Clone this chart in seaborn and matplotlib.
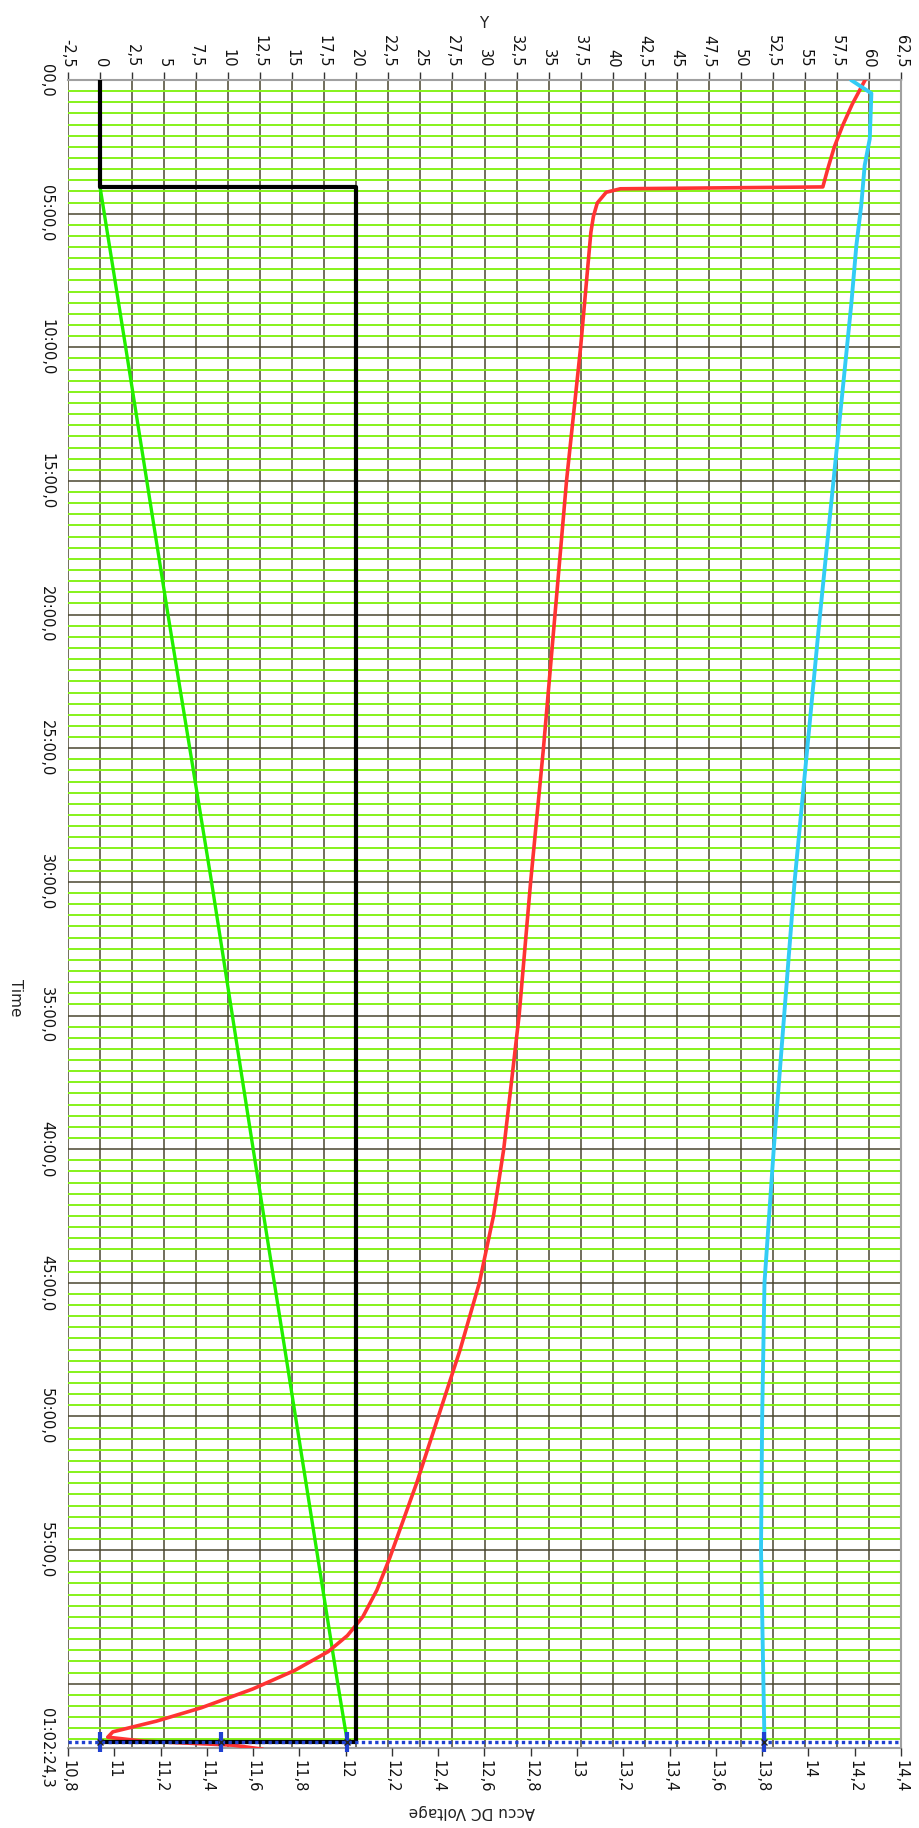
import numpy as np
import pandas as pd
import matplotlib
matplotlib.use("Agg")
import matplotlib.pyplot as plt
import seaborn as sns

sns.set_theme(style="white")
plt.rcParams["font.family"] = ["DejaVu Sans"]

# ---------------- data (time in minutes) ----------------
black_t = [0.0, 4.0, 4.0, 62.18, 62.18]
black_y = [0.0, 0.0, 20.0, 20.0, 0.0]

green_t = [4.0, 10.0, 20.0, 30.0, 40.0, 45.0, 50.0, 55.0, 60.0, 62.18]
green_y = [0.0, 2.0, 5.3, 8.7, 11.95, 13.6, 15.25, 16.9, 18.55, 19.3]

red_t = [0.0, 0.9, 1.7, 2.5, 3.3, 4.0, 4.07, 4.2, 4.6, 5.1, 5.7, 10.0, 15.0, 20.0,
         25.0, 30.0, 35.0, 40.0, 42.5, 45.0, 47.5, 50.0, 52.5, 55.3, 56.5, 57.5,
         58.2, 58.8, 59.5, 60.2, 60.9, 61.4, 61.8, 62.0, 62.15, 62.3, 62.45]
red_y = [59.7, 58.7, 57.95, 57.3, 56.8, 56.4, 40.6, 39.5, 38.8, 38.5, 38.3, 37.5,
         36.4, 35.5, 34.6, 33.6, 32.7, 31.5, 30.7, 29.6, 28.1, 26.4, 24.7, 22.6,
         21.6, 20.5, 19.3, 17.8, 15.2, 11.9, 7.9, 4.4, 1.0, 0.6, 3.4, 10.4, 12.7]

cyan_t = [0.0, 0.5, 2.2, 3.2, 4.7, 6.2, 8.4, 20.0, 30.0, 40.0, 45.0, 50.0, 55.0, 62.18]
cyan_v = [14.184, 14.272, 14.265, 14.243, 14.228, 14.207, 14.185, 14.05, 13.94,
          13.85, 13.81, 13.80, 13.795, 13.81]

cursor_t = 62.18
cursor_y = [0.0, 9.4, 19.3]     # cursor points on the Y scale
cursor_v = [13.81]              # cursor point on the voltage scale

t_end = 62.405
time_ticks = [0, 5, 10, 15, 20, 25, 30, 35, 40, 45, 50, 55, 60, t_end]
time_labels = ["00,0", "05:00,0", "10:00,0", "15:00,0", "20:00,0", "25:00,0",
               "30:00,0", "35:00,0", "40:00,0", "45:00,0", "50:00,0", "55:00,0",
               "", "01:02:24,3"]
y_ticks = [-2.5 + 2.5 * i for i in range(27)]
v_ticks = [round(10.8 + 0.2 * i, 1) for i in range(19)]


def fmt(v):
    v = round(v, 2)
    if abs(v - round(v)) < 1e-9:
        return str(int(round(v)))
    return ("%g" % v).replace(".", ",")


# ---------------- figure ----------------
W, H = 920, 1828
fig = plt.figure(figsize=(W / 100, H / 100), dpi=100)
fig.patch.set_facecolor("white")
L, R, T, B = 68, 901, 80, 1748
ax = fig.add_axes([L / W, 1 - B / H, (R - L) / W, (B - T) / H])
ax.set_facecolor("white")

GREEN_GRID = "#86f21a"
DARK_GRID = "#4a4630"

# series on the Y scale
df_black = pd.DataFrame({"t": black_t, "v": black_y})
df_green = pd.DataFrame({"t": green_t, "v": green_y})
df_red = pd.DataFrame({"t": red_t, "v": red_y})
sns.lineplot(data=df_green, x="v", y="t", orient="y", sort=False, estimator=None,
             color="#22ee00", lw=2.4, ax=ax, zorder=3)
sns.lineplot(data=df_red, x="v", y="t", orient="y", sort=False, estimator=None,
             color="#ff3333", lw=2.6, ax=ax, zorder=3)
sns.lineplot(data=df_black, x="v", y="t", orient="y", sort=False, estimator=None,
             color="black", lw=3.0, ax=ax, zorder=4)
ax.set_xlabel("")
ax.set_ylabel("")

# voltage scale on the bottom
ax2 = ax.twiny()
df_cyan = pd.DataFrame({"t": cyan_t, "v": cyan_v})
sns.lineplot(data=df_cyan, x="v", y="t", orient="y", sort=False, estimator=None,
             color="#33ccf5", lw=2.8, ax=ax2, zorder=3)
ax2.set_xlim(10.8, 14.4)
ax2.set_ylim(t_end, 0)
ax2.set_xlabel("")
ax2.set_ylabel("")
for s in ax2.spines.values():
    s.set_visible(False)
ax2.grid(False)
ax2.xaxis.set_ticks_position("bottom")
ax2.xaxis.set_label_position("bottom")
ax2.set_xticks(v_ticks)
ax2.set_xticklabels([fmt(v) for v in v_ticks], rotation=-90, fontsize=10.5, color="#111111")
ax2.tick_params(axis="x", which="both", bottom=True, top=False, labelbottom=True, labeltop=False,
                direction="out", length=6, width=1, color="#333333", pad=3)

# main axis (time + Y scale on top)
ax.set_xlim(-2.5, 62.5)
ax.set_ylim(t_end, 0)
minor = [i * 5 / 12 for i in range(int(t_end / (5 / 12)) + 1) if i % 12 != 0]
ax.set_yticks(minor, minor=True)
ax.set_yticks(time_ticks)
ax.set_yticklabels(time_labels, rotation=-90, va="center", fontsize=10.5, color="#111111")
ax.grid(which="minor", axis="y", color=GREEN_GRID, lw=1.4, zorder=0)
ax.grid(which="major", axis="y", color=DARK_GRID, lw=1.1, zorder=0.5)
ax.set_xticks(y_ticks)
ax.set_xticklabels([fmt(v) for v in y_ticks], rotation=-90, fontsize=10.5, color="#111111")
ax.grid(which="major", axis="x", color=DARK_GRID, lw=1.1, zorder=0.5)
ax.set_axisbelow(True)
ax.tick_params(axis="x", which="both", top=True, bottom=False, labeltop=True, labelbottom=False,
               direction="out", length=6, width=1, color="#333333", pad=3)
ax.tick_params(axis="y", which="major", direction="out", length=6, width=1, color="#333333", pad=4)
ax.tick_params(axis="y", which="minor", length=0)
for s in ["top", "right", "bottom"]:
    ax.spines[s].set_color("#a0a0a0")
    ax.spines[s].set_linewidth(1.5)
ax.spines["left"].set_visible(False)

# cursor line and cursor markers
ax2.axhline(cursor_t, color="#1f40d0", lw=2.4, ls=(0, (1, 1)), dash_capstyle="butt", zorder=6)
ax2.plot(cursor_v, [cursor_t], ls="none", marker="|", ms=15, mew=3,
         color="#1f40d0", zorder=7, clip_on=False)
ax2.plot(cursor_v, [cursor_t], ls="none", marker="x", ms=4, mew=1,
         color="#222222", zorder=8, clip_on=False)
trans = ax.transData
for yv in cursor_y:
    ax2.plot([yv], [cursor_t], ls="none", marker="|", ms=15, mew=3, color="#1f40d0",
             zorder=7, clip_on=False, transform=trans)
    ax2.plot([yv], [cursor_t], ls="none", marker="x", ms=4, mew=1, color="#222222",
             zorder=8, clip_on=False, transform=trans)
ax2.set_xlim(10.8, 14.4)
ax2.set_ylim(t_end, 0)

# axis titles (rotated as in the reference)
fig.text(484 / W, 1 - 24 / H, "Y", rotation=0, ha="center", va="center", fontsize=11, color="#222222")
fig.text(472 / W, 1 - 1812 / H, "Accu DC Voltage", rotation=180, ha="center", va="center",
         fontsize=11, color="#222222")
fig.text(15 / W, 1 - 998 / H, "Time", rotation=-90, ha="center", va="center", fontsize=11,
         color="#222222")

fig.savefig("out.png", dpi=100, facecolor="white")
